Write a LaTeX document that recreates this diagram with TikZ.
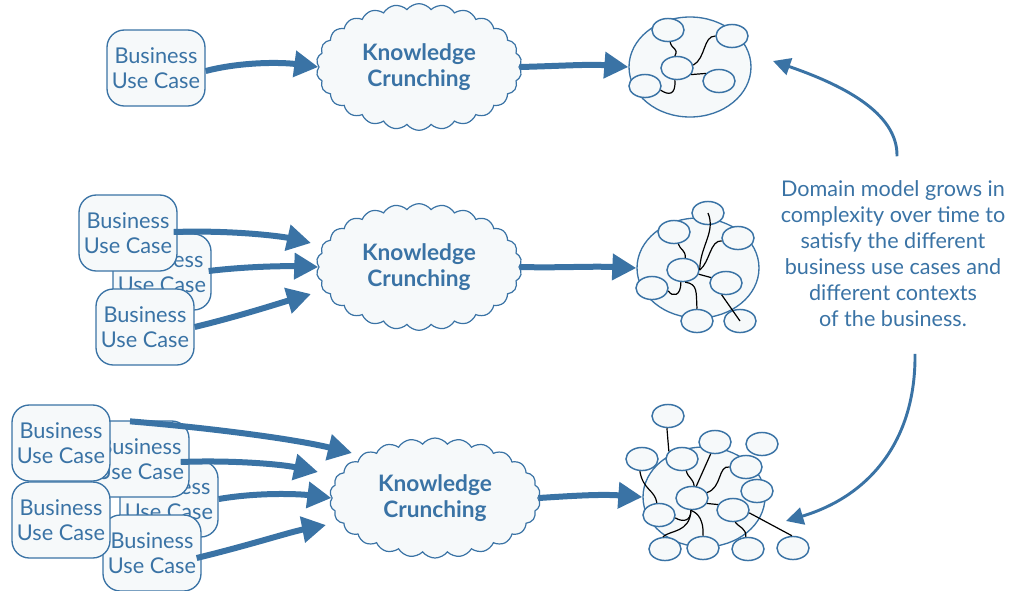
\documentclass[tikz,border=0pt]{standalone}
\usepackage{fontspec}
\setmainfont{Lato}
\usetikzlibrary{shapes.geometric,shapes.symbols,arrows.meta}
\definecolor{myblue}{HTML}{3A73A5}
\definecolor{myfill}{HTML}{F6F9FA}
\tikzset{
  buc/.style={draw=myblue, fill=myfill, line width=1pt, rounded corners=13pt,
    minimum width=73.5pt, minimum height=57pt, align=center, text=myblue,
    font=\fontsize{16.3}{19}\selectfont, inner sep=0pt},
  crunch/.style={cloud, cloud puffs=26, cloud puff arc=105, cloud ignores aspect,
    draw=myblue, fill=myfill, line width=0.9pt, minimum width=154pt, minimum height=95pt,
    align=center, text=myblue, font=\bfseries\fontsize{17}{19}\selectfont, inner sep=0pt},
  fatarrow/.style={line width=4.5pt, draw=myblue, -{Triangle[length=18pt,width=19pt]}},
  growarrow/.style={line width=2.2pt, draw=myblue, -{Triangle[length=13pt,width=13pt]}},
  bigell/.style={ellipse, draw=myblue, fill=myfill, line width=1pt, minimum width=91.5pt, minimum height=75pt, inner sep=0pt},
  smallell/.style={ellipse, draw=myblue, fill=myfill, line width=1.1pt, minimum width=24pt, minimum height=17.3pt, inner sep=0pt},
  linkline/.style={draw=black, line width=0.9pt},
  notetext/.style={align=center, text=myblue, font=\fontsize{16.2}{19.5}\selectfont}
}
\begin{document}
\begin{tikzpicture}[x=0.75pt,y=-0.75pt]
\useasboundingbox (0,0) rectangle (1010,590);

% ---------- Row 1 ----------
\node[buc] (u1) at (156,68) {Business\\Use Case};
\node[crunch] (k1) at (419,67) {Knowledge\\Crunching};
\node[bigell] (A) at (690,67) {};
\node[smallell] (a1) at (668,30) {};
\node[smallell] (a2) at (732,36) {};
\node[smallell] (a3) at (677,68) {};
\node[smallell] (a4) at (645,86) {};
\node[smallell] (a5) at (719,81) {};
\draw[linkline] (a1.-80) .. controls (672,50) and (679,48) .. (a3.100);
\draw[linkline] (a3.10) .. controls (706,58) and (703,36) .. (a2.west);
\draw[linkline] (a3.-25) -- (a5.150);
\draw[linkline] (a3.-100) .. controls (676,96) and (668,95) .. (a4.-15);
\draw[fatarrow] (u1.east) ++(0,3) coordinate (s1) .. controls (240,62) and (280,62) .. (k1.west);
\draw[fatarrow] (k1.east) .. controls (560,66) and (590,64) .. (A.west);

% ---------- Row 2 ----------
\node[buc] (u2b) at (162,272) {Business\\Use Case};
\node[buc] (u2a) at (128,233) {Business\\Use Case};
\node[buc] (u2c) at (145,327) {Business\\Use Case};
\node[crunch] (k2) at (419,267) {Knowledge\\Crunching};
\node[bigell] (B) at (698,268) {};
\node[smallell] (b1) at (708,213) {};
\node[smallell] (b2) at (674,232) {};
\node[smallell] (b3) at (738,238) {};
\node[smallell] (b4) at (683,270) {};
\node[smallell] (b5) at (726,283) {};
\node[smallell] (b6) at (652,288) {};
\node[smallell] (b7) at (697,321) {};
\node[smallell] (b8) at (740,321) {};
\draw[linkline] (b1.center) .. controls (716,232) and (700,246) .. (b4.east);
\draw[linkline] (b2.-70) .. controls (680,250) and (686,250) .. (b4.80);
\draw[linkline] (b3.190) .. controls (710,240) and (710,262) .. (b4.east);
\draw[linkline] (b4.-15) -- (b5.160);
\draw[linkline] (b4.-80) .. controls (698,284) and (696,292) .. (b7.north);
\draw[linkline] (b4.-100) .. controls (681,297) and (672,297) .. (b6.-10);
\draw[linkline] (b5.-110) -- (b8.center);
\draw[fatarrow] (u2a.east) ++(-4,-1) coordinate (s2a) .. controls (230,230) and (280,236) .. (311,243);
\draw[fatarrow] (u2b.east) ++(-3,-1) coordinate (s2b) .. controls (250,266) and (290,266) .. (k2.west);
\draw[fatarrow] (u2c.east) coordinate (s2c) .. controls (240,316) and (280,303) .. (311,294);
\draw[fatarrow] (k2.east) .. controls (560,268) and (590,266) .. (B.west);

% ---------- Row 3 ----------
\node[buc] (u3c) at (169,499) {Business\\Use Case};
\node[buc] (u3b) at (140,459) {Business\\Use Case};
\node[buc] (u3a) at (61,443) {Business\\Use Case};
\node[buc] (u3e) at (152,553) {Business\\Use Case};
\node[buc] (u3d) at (61,520) {Business\\Use Case};
\node[crunch, minimum width=158pt, minimum height=90pt] (k3) at (435,498) {Knowledge\\Crunching};
\node[bigell] (C) at (704,497) {};
\node[smallell] (f1) at (668,416) {};
\node[smallell] (f2) at (642,459) {};
\node[smallell] (f3) at (682,459) {};
\node[smallell] (f4) at (715,442) {};
\node[smallell] (f5) at (762,444) {};
\node[smallell] (f6) at (746,467) {};
\node[smallell] (f7) at (757,491) {};
\node[smallell] (f8) at (692,498) {};
\node[smallell] (f9) at (733,510) {};
\node[smallell] (f10) at (659,515) {};
\node[smallell] (f11) at (665,549) {};
\node[smallell] (f12) at (703,548) {};
\node[smallell] (f13) at (748,549) {};
\node[smallell] (f14) at (793,548) {};
\draw[linkline] (f1.-95) -- (f3.150);
\draw[linkline] (f3.-70) .. controls (688,478) and (693,478) .. (f8.80);
\draw[linkline] (f4.-110) -- (f8.70);
\draw[linkline] (f6.180) .. controls (718,465) and (722,488) .. (f8.20);
\draw[linkline] (f2.-100) .. controls (643,490) and (655,490) .. (f10.100);
\draw[linkline] (f8.-20) -- (f9.160);
\draw[linkline] (f8.-95) .. controls (691,522) and (682,522) .. (f10.-10);
\draw[linkline] (f8.-95) .. controls (690,533) and (670,530) .. (f11.100);
\draw[linkline] (f8.-95) .. controls (694,512) and (704,515) .. (f12.north);
\draw[linkline] (f9.-80) .. controls (740,528) and (746,528) .. (f13.100);
\draw[linkline] (f9.-10) -- (f14.95);
\draw[fatarrow] (u3b.north) ++(-10,1) coordinate (s3b) .. controls (200,427) and (290,438) .. (352,453);
\draw[fatarrow] (u3b.east) ++(-9,3) coordinate (s3b2) .. controls (230,460) and (280,464) .. (318,472);
\draw[fatarrow] (u3c.east) .. controls (260,492) and (300,494) .. (k3.west);
\draw[fatarrow] (u3e.east) ++(-5,5) coordinate (s3e) .. controls (250,545) and (290,532) .. (326,525);
\draw[fatarrow] (k3.east) .. controls (570,496) and (600,494) .. (C.west);

% ---------- Note ----------
\node[notetext] (note) at (893,254) {Domain model grows in\\complexity over time to\\satisfy the different\\business use cases and\\different contexts\\of the business.};
\coordinate (g1) at (773,61);
\coordinate (g2) at (786,521);
\draw[growarrow] (note.north) ++(4,-20) coordinate (n1) .. controls (898,112) and (840,84) .. (g1);
\draw[growarrow] (note.south) ++(22,22) coordinate (n2) .. controls (916,440) and (870,496) .. (g2);
\end{tikzpicture}
\end{document}
